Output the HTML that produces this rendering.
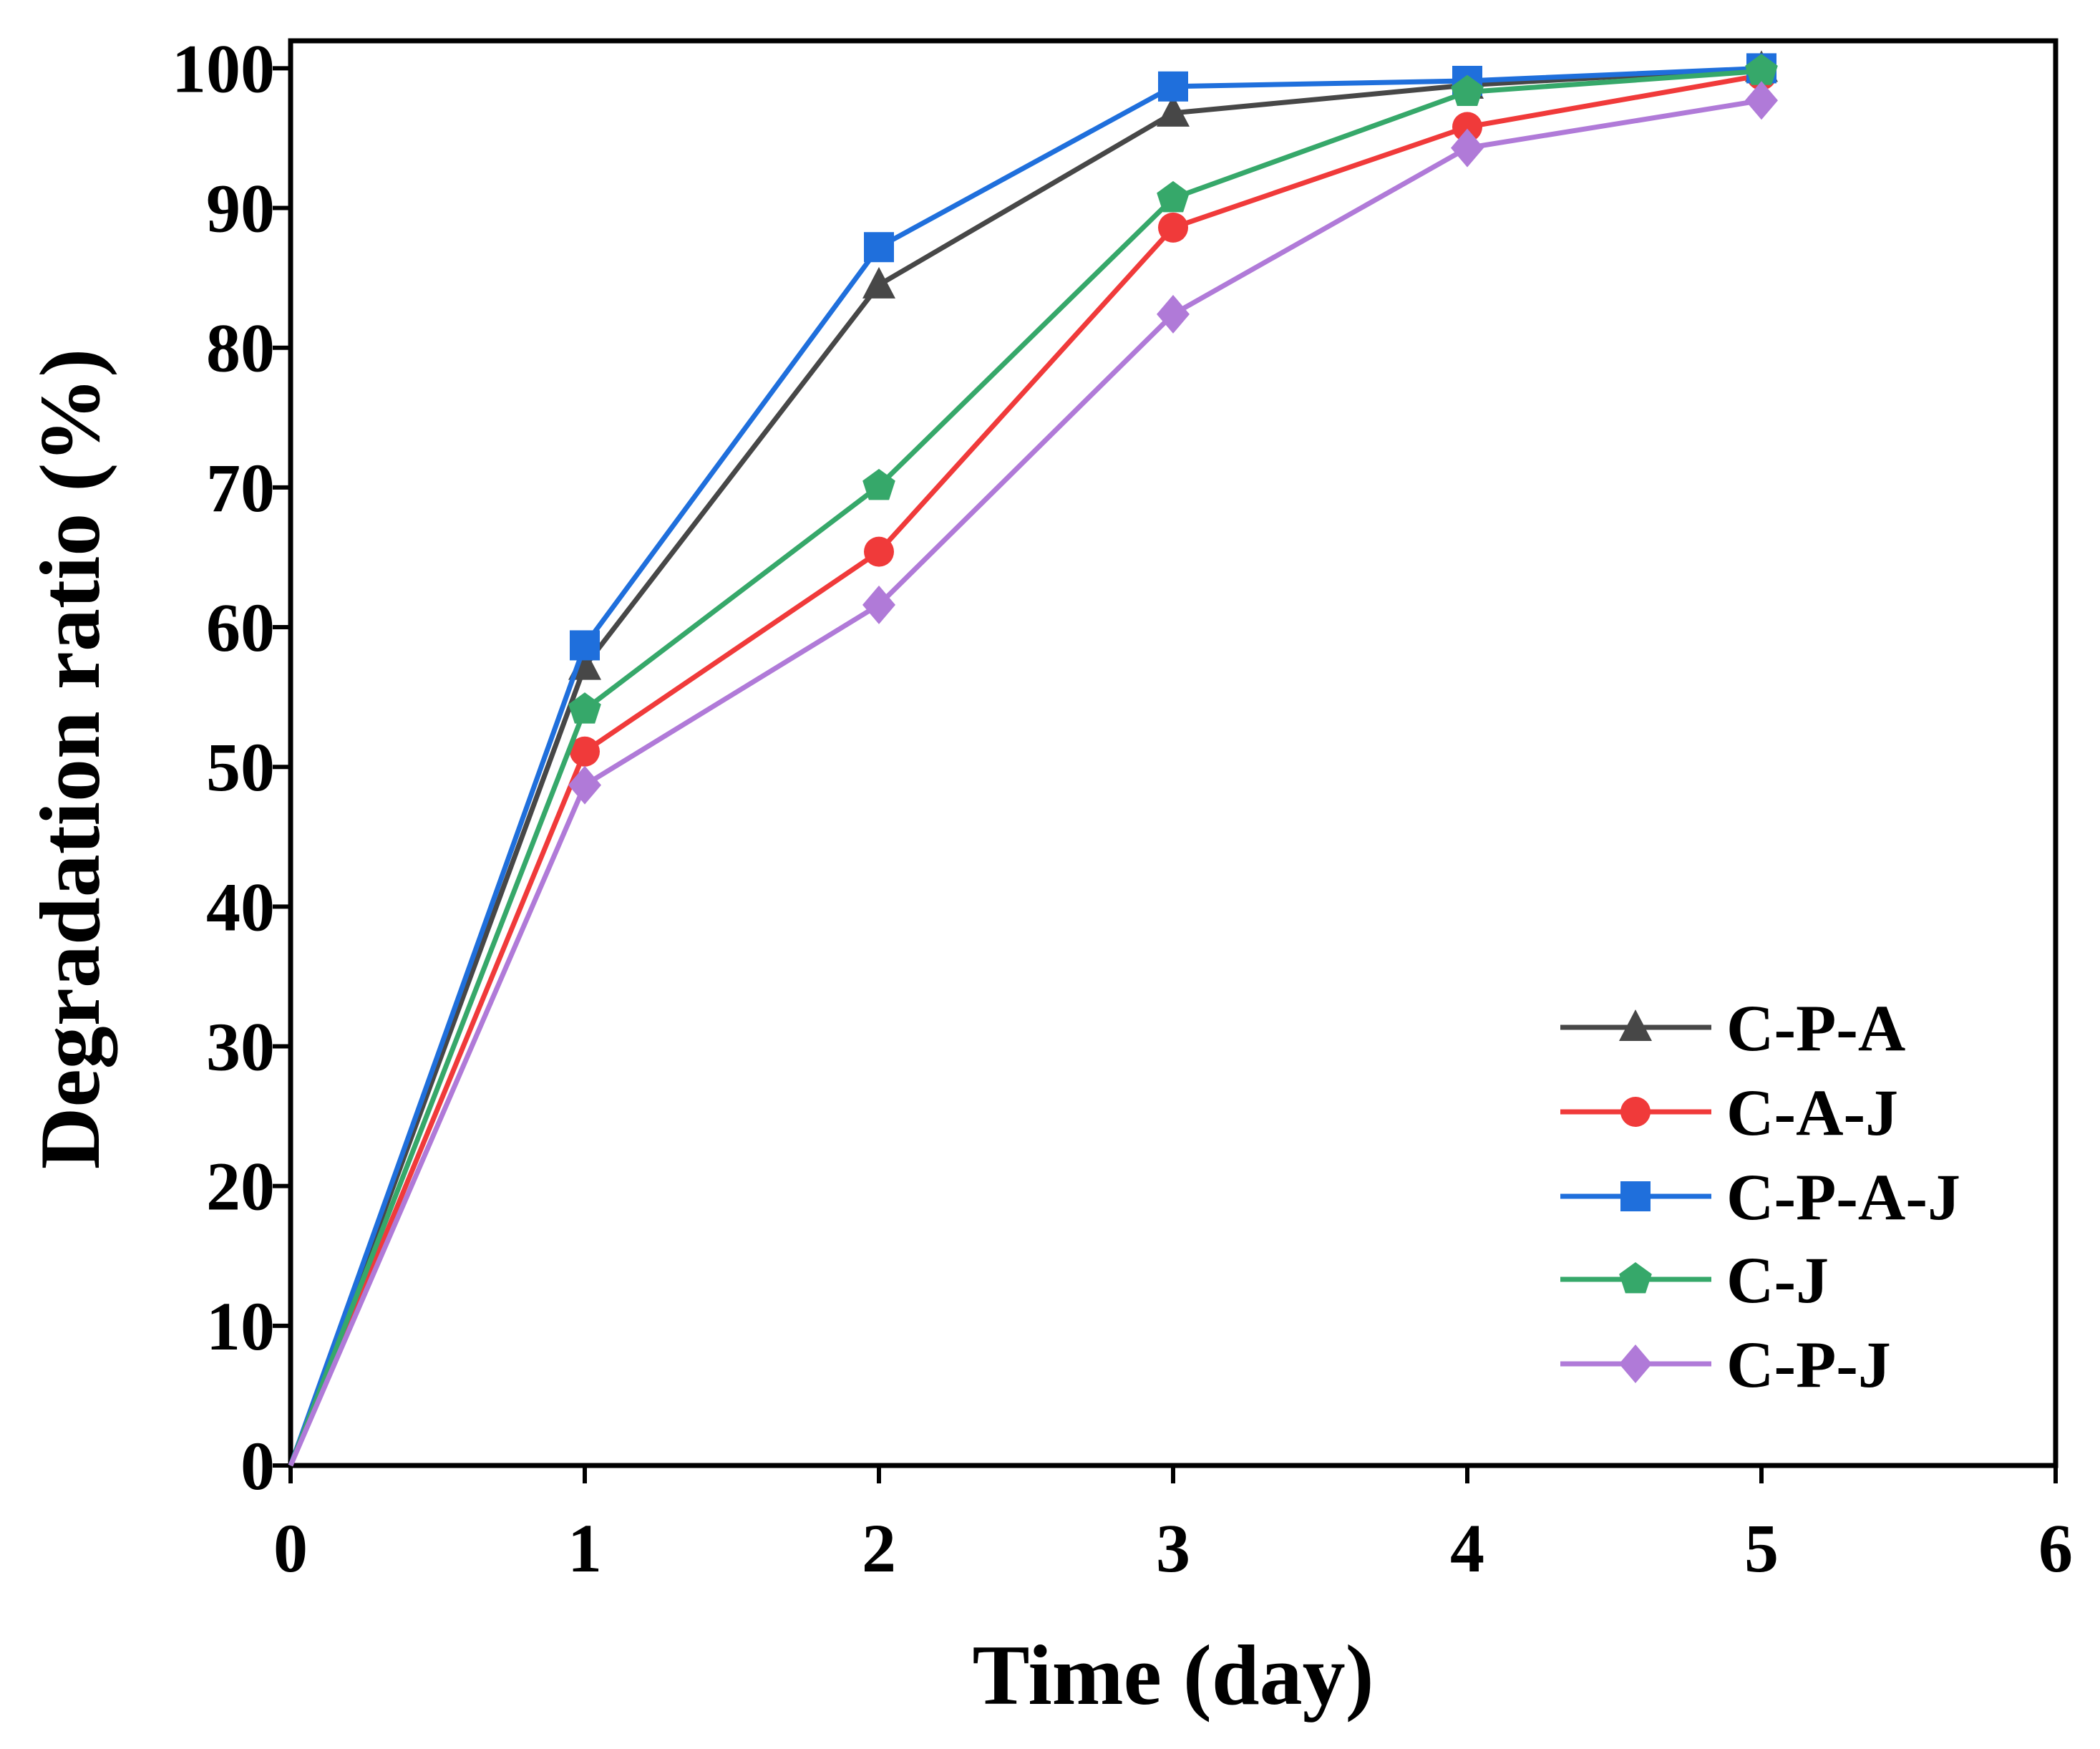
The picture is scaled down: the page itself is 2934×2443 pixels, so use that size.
<!DOCTYPE html>
<html><head><meta charset="utf-8"><style>
body{margin:0;background:#fff}
svg{display:block}
text{font-family:"Liberation Serif",serif;font-weight:bold;fill:#000}
</style></head><body>
<svg id="chart" width="2934" height="2443" viewBox="0 0 2934 2443">
<g id="plot"></g>
</svg>
<script>
const days=[0,1,2,3,4,5];
const seriesNames=["C-P-A","C-A-J","C-P-A-J","C-J","C-P-J"];
const cpa=[0,57.2,84.5,96.8,98.8,100];
const caj=[0,51.1,65.4,88.6,95.8,99.5];
const cpaj=[0,58.7,87.2,98.7,99.1,100];
const cj=[0,54.1,70.1,90.7,98.3,99.8];
const cpj=[0,48.7,61.6,82.4,94.3,97.7];
const xTicks=[0,1,2,3,4,5,6];
const yTicks=[0,10,20,30,40,50,60,70,80,90,100];

const NS="http://www.w3.org/2000/svg";
const L=406,R=2872,T=57,B=2047;
const X=v=>L+(R-L)*v/6;
const Y=v=>B-(B-95.4)*v/100;
const g=document.getElementById('plot');
function el(t,a,p){const e=document.createElementNS(NS,t);for(const k in a)e.setAttribute(k,a[k]);(p||g).appendChild(e);return e;}

const frame=el('rect',{x:L,y:T,width:R-L,height:B-T,fill:'none',stroke:'#000','stroke-width':7});



xTicks.forEach(v=>{
  const t=el('line',{x1:X(v),x2:X(v),y1:B,y2:B+25,stroke:'#000','stroke-width':6});
  
  
  const l=el('text',{x:X(v),y:2195,'text-anchor':'middle','font-size':96});
  l.textContent=v;
  
  
});
yTicks.forEach(v=>{
  const t=el('line',{x1:L-25,x2:L,y1:Y(v),y2:Y(v),stroke:'#000','stroke-width':6});
  
  
  const l=el('text',{x:384,y:Y(v)+33,'text-anchor':'end','font-size':96});
  l.textContent=v;
  
  
});
const xt=el('text',{x:1639,y:2380,'text-anchor':'middle','font-size':120});
xt.textContent='Time (day)';


const yt=el('text',{x:0,y:0,'text-anchor':'middle','font-size':120,transform:'translate(138,1060) rotate(-90)'});
yt.textContent='Degradation ratio (%)';



const colors=["#474747","#f03a3a","#1f6fdc","#36a86a","#b07ad8"];
const shapes=["tri","circle","square","pent","diamond"];
const data=[cpa,caj,cpaj,cj,cpj];
function marker(shape,cx,cy,c,parent){
  const s=21;let e;
  if(shape==='circle')e=el('circle',{cx,cy,r:s,fill:c},parent);
  else if(shape==='square')e=el('rect',{x:cx-s,y:cy-s,width:2*s,height:2*s,fill:c},parent);
  else if(shape==='tri')e=el('polygon',{points:`${cx},${cy-s-4} ${cx+s+2},${cy+s-2} ${cx-s-2},${cy+s-2}`,fill:c},parent);
  else if(shape==='diamond')e=el('polygon',{points:`${cx},${cy-s-6} ${cx+s+2},${cy} ${cx},${cy+s+6} ${cx-s-2},${cy}`,fill:c},parent);
  else{let p=[];for(let i=0;i<5;i++){const a=-Math.PI/2+i*2*Math.PI/5;p.push((cx+(s+3)*Math.cos(a))+','+(cy+(s+3)*Math.sin(a)));}e=el('polygon',{points:p.join(' '),fill:c},parent);}
  return e;
}
data.forEach((arr,i)=>{
  const sg=el('g',{});
  
  
  const pl=el('polyline',{points:arr.map((v,j)=>X(days[j])+','+Y(v)).join(' '),fill:'none',stroke:colors[i],'stroke-width':7,'stroke-linejoin':'round'},sg);
  
  
  arr.forEach((v,j)=>{
    if(days[j]===0)return;
    const m=marker(shapes[i],X(days[j]),Y(v),colors[i],sg);
    
    
  });
});
const leg=el('g',{});


const rows=[1435,1553,1671,1787,1905];
seriesNames.forEach((n,i)=>{
  const lg=el('g',{},leg);
  
  
  el('line',{x1:2180,x2:2391,y1:rows[i],y2:rows[i],stroke:colors[i],'stroke-width':7},lg);
  marker(shapes[i],2285,rows[i],colors[i],lg);
  const t=el('text',{x:2412,y:rows[i]+32,'font-size':92},lg);
  t.textContent=n;
});
</script>
</body></html>
